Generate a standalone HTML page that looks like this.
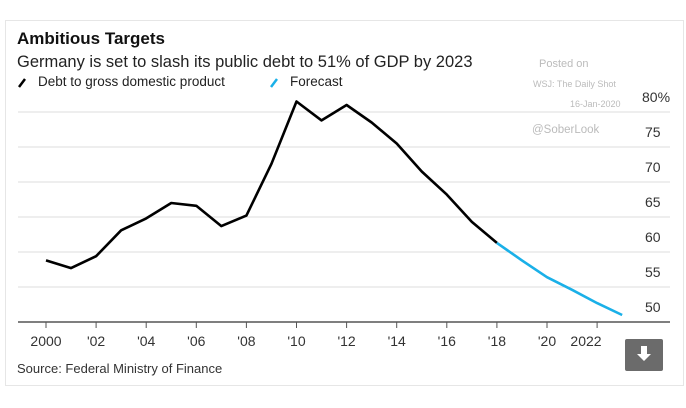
<!DOCTYPE html>
<html><head><meta charset="utf-8"><style>
body{margin:0;background:#fff;width:686px;height:408px;overflow:hidden;font-family:"Liberation Sans",sans-serif}
#card{position:absolute;left:5px;top:20px;width:677px;height:364px;border:1px solid #e6e6e6}
</style></head><body>
<div id="card"></div>
<svg id="c" width="686" height="408" style="position:absolute;left:0;top:0">
<text x="17" y="44" font-size="17" font-weight="bold" fill="#111">Ambitious Targets</text>
<text x="17" y="67" font-size="16.5" fill="#222">Germany is set to slash its public debt to 51% of GDP by 2023</text>
<line x1="19" y1="87" x2="25" y2="79" stroke="#000" stroke-width="2.5"/>
<text x="38" y="86" font-size="13.5" fill="#222">Debt to gross domestic product</text>
<line x1="271" y1="87" x2="277" y2="79" stroke="#1ab0e8" stroke-width="2.5"/>
<text x="290" y="86" font-size="13.5" fill="#222">Forecast</text>
<text x="539" y="67" font-size="11" fill="#bbb">Posted on</text>
<text x="533" y="87" font-size="9" fill="#bbb">WSJ: The Daily Shot</text>
<text x="570" y="107" font-size="9" fill="#bbb">16-Jan-2020</text>
<text x="532" y="133" font-size="11.5" fill="#bbb">@SoberLook</text>
<g id="grid"></g><g id="lines"></g><g id="xt"></g>
<text x="17" y="373" font-size="13" fill="#333">Source: Federal Ministry of Finance</text>
<g>
<rect x="625" y="339" width="38" height="32" rx="2" fill="#6b6b6b"/>
<path d="M641 346h6v8h4l-7 7-7-7h4z" fill="#fff"/>
</g>
</svg>
<script>
const years=[2000,2001,2002,2003,2004,2005,2006,2007,2008,2009,2010,2011,2012,2013,2014,2015,2016,2017,2018];
const debt=[58.8,57.7,59.4,63.1,64.8,67.0,66.6,63.7,65.2,72.6,81.5,78.8,81.0,78.5,75.5,71.5,68.2,64.3,61.3];
const fYears=[2018,2019,2020,2021,2022,2023];
const forecast=[61.3,58.8,56.4,54.6,52.7,51.0];
const yTicks=[50,55,60,65,70,75,80];
const yLabels=["50","55","60","65","70","75","80%"];
const xTicks=[2000,2002,2004,2006,2008,2010,2012,2014,2016,2018,2020,2022];
const xLabels=["2000","'02","'04","'06","'08","'10","'12","'14","'16","'18","'20","2022"];
const X=y=>46+(y-2000)*25.05, Y=v=>322-(v-50)*7;
const NS="http://www.w3.org/2000/svg";
function mk(t,a,p){const e=document.createElementNS(NS,t);for(const k in a)e.setAttribute(k,a[k]);p.appendChild(e);return e;}
const g=document.getElementById('grid');
yTicks.forEach((v,i)=>{
 if(i>0){const l=mk('line',{x1:18,x2:670,y1:Y(v),y2:Y(v),stroke:'#ddd','stroke-width':1},g);
 
 }
 const t=mk('text',{x:i==6?642:645,y:Y(v)-10,'font-size':14,fill:'#333'},g);t.textContent=yLabels[i];
 
 
});
const ax=mk('line',{x1:18,x2:670,y1:322,y2:322,stroke:'#555','stroke-width':1.5},g);


const xt=document.getElementById('xt');
xTicks.forEach((yr,i)=>{
 const l=mk('line',{x1:X(yr),x2:X(yr),y1:322,y2:328,stroke:'#555'},xt);
 
 
 const t=mk('text',{x:i==11?586:X(yr),y:346,'font-size':14,fill:'#333','text-anchor':'middle'},xt);t.textContent=xLabels[i];
 
 
});
const L=document.getElementById('lines');
const p1=mk('polyline',{points:years.map((y,i)=>X(y)+','+Y(debt[i])).join(' '),fill:'none',stroke:'#000','stroke-width':2.6,'stroke-linejoin':'round'},L);


const p2=mk('polyline',{points:fYears.map((y,i)=>X(y)+','+Y(forecast[i])).join(' '),fill:'none',stroke:'#1ab0e8','stroke-width':2.6,'stroke-linejoin':'round'},L);


</script>
</body></html>
